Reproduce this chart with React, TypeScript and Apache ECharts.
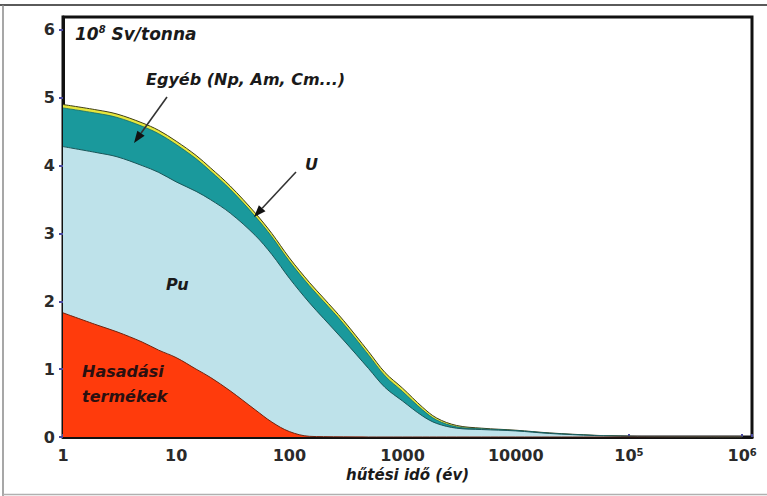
import React, { useEffect, useRef } from 'react';
import * as echarts from 'echarts';

// cooling time (years)
const years = [1, 2, 3, 5, 7, 10, 15, 20, 30, 50, 70, 100, 150, 200, 300, 500, 700, 1000, 1500, 2000, 3000, 5000, 10000, 20000, 50000, 100000, 200000, 500000, 1000000];
// layer values (10^8 Sv / tonne), stacked bottom to top
const fissionProducts = [1.83, 1.65, 1.55, 1.4, 1.28, 1.17, 1.0, 0.88, 0.68, 0.4, 0.22, 0.08, 0.01, 0.005, 0.002, 0, 0, 0, 0, 0, 0, 0, 0, 0, 0, 0, 0, 0, 0];
const plutonium = [2.45, 2.54, 2.58, 2.6, 2.62, 2.59, 2.62, 2.62, 2.62, 2.57, 2.47, 2.26, 1.97, 1.745, 1.428, 1.01, 0.73, 0.53, 0.31, 0.2, 0.13, 0.11, 0.09, 0.052, 0.021, 0.008, 0.004, 0.002, 0.001];
const otherActinides = [0.57, 0.58, 0.58, 0.58, 0.57, 0.55, 0.48, 0.42, 0.35, 0.28, 0.26, 0.25, 0.25, 0.25, 0.24, 0.2, 0.17, 0.14, 0.09, 0.05, 0.02, 0.01, 0.005, 0.004, 0.002, 0.001, 0.0005, 0, 0];
const uranium = [0.05, 0.05, 0.05, 0.05, 0.05, 0.05, 0.05, 0.05, 0.05, 0.05, 0.05, 0.05, 0.05, 0.05, 0.05, 0.05, 0.05, 0.05, 0.04, 0.03, 0.02, 0.01, 0.005, 0.004, 0.002, 0.001, 0.0005, 0, 0];
const yTicks = [0, 1, 2, 3, 4, 5, 6];

const FONT = '"DejaVu Sans", sans-serif';

// cumulative (stacked) tops, built from the layer arrays
function cumulative(layers: number[][]) {
  return years.map((t, i) => [t, layers.reduce((s, l) => s + l[i], 0)]);
}

function arrow(x1: number, y1: number, x2: number, y2: number) {
  const dx = x2 - x1;
  const dy = y2 - y1;
  const len = Math.sqrt(dx * dx + dy * dy);
  const ux = dx / len;
  const uy = dy / len;
  const hl = 12;
  const hw = 4.5;
  const bx = x2 - ux * hl;
  const by = y2 - uy * hl;
  return [
    {
      type: 'line',
      shape: { x1, y1, x2: bx, y2: by },
      style: { stroke: '#333', lineWidth: 1.6 },
      silent: true,
      z: 100,
    },
    {
      type: 'polygon',
      shape: {
        points: [
          [x2, y2],
          [bx - uy * hw, by + ux * hw],
          [bx + uy * hw, by - ux * hw],
        ],
      },
      style: { fill: '#111' },
      silent: true,
      z: 100,
    },
  ];
}

function text(x: number, y: number, t: string, size: number, fill = '#1a1a1a') {
  return {
    type: 'text',
    style: {
      x,
      y,
      text: t,
      font: `italic bold ${size}px ${FONT}`,
      fill,
      textAlign: 'left',
      textVerticalAlign: 'middle',
    },
    silent: true,
    z: 100,
  };
}

export default function App() {
  const ref = useRef<HTMLDivElement>(null);

  useEffect(() => {
    if (!ref.current) return;
    const chart = echarts.init(ref.current, null, { renderer: 'svg' });

    const isPow10 = (v: number) => Math.abs(Math.log10(v) - Math.round(Math.log10(v))) < 1e-6;

    const areaSeries = (name: string, data: number[][], fill: string, line: string, lw: number, z: number) => ({
      name,
      type: 'line',
      data,
      smooth: 0.35,
      showSymbol: false,
      symbol: 'none',
      z,
      lineStyle: { color: line, width: lw },
      areaStyle: { color: fill, opacity: 1, origin: 'start' },
      emphasis: { disabled: true },
    });

    const option: any = {
      animation: false,
      backgroundColor: '#ffffff',
      grid: {
        left: 63,
        top: 17,
        width: 689,
        height: 420,
        show: true,
        borderColor: '#111',
        borderWidth: 3,
        backgroundColor: '#ffffff',
        containLabel: false,
      },
      xAxis: {
        type: 'log',
        logBase: 10,
        min: 1,
        max: 1222000,
        splitNumber: 6,
        name: 'hűtési idő (év)',
        nameLocation: 'middle',
        nameGap: 30,
        nameTextStyle: {
          fontFamily: FONT,
          fontStyle: 'italic',
          fontWeight: 'bold',
          fontSize: 15,
          color: '#1a1a1a',
          verticalAlign: 'top',
        },
        axisLine: { show: true, lineStyle: { color: '#111', width: 3 } },
        axisTick: { show: true, length: 3, inside: true, lineStyle: { color: '#4a4aa0', width: 2 } },
        splitLine: { show: false },
        minorTick: { show: false },
        axisLabel: {
          margin: 10,
          fontFamily: FONT,
          fontWeight: 'bold',
          fontSize: 16,
          color: '#2a2a2a',
          formatter: (v: number) => {
            if (!isPow10(v)) return '';
            const e = Math.round(Math.log10(v));
            if (e <= 4) return String(Math.round(v));
            return '{b|10}{s|' + e + '}';
          },
          rich: {
            b: { fontFamily: FONT, fontWeight: 'bold', fontSize: 16, color: '#2a2a2a' },
            s: { fontFamily: FONT, fontWeight: 'bold', fontSize: 10, color: '#2a2a2a', verticalAlign: 'top', lineHeight: 14 },
          },
        },
      },
      yAxis: {
        type: 'value',
        min: 0,
        max: 6.19,
        interval: 1,
        axisLine: { show: true, lineStyle: { color: '#111', width: 3 } },
        axisTick: { show: true, length: 4, customValues: yTicks, lineStyle: { color: '#4a4aa0', width: 2 } },
        splitLine: { show: false },
        axisLabel: {
          margin: 8,
          customValues: yTicks,
          fontFamily: FONT,
          fontWeight: 'bold',
          fontSize: 16,
          color: '#2a2a2a',
          formatter: (v: number) => (Math.abs(v - Math.round(v)) < 1e-6 ? String(Math.round(v)) : ''),
        },
      },
      series: [
        areaSeries('U', cumulative([fissionProducts, plutonium, otherActinides, uranium]), '#E6E63C', '#3e3e18', 1, 2),
        areaSeries('Egyéb (Np, Am, Cm...)', cumulative([fissionProducts, plutonium, otherActinides]), '#1A999C', '#0f6a6c', 0.8, 3),
        areaSeries('Pu', cumulative([fissionProducts, plutonium]), '#BEE2EA', '#1b5658', 1, 4),
        areaSeries('Hasadási termékek', cumulative([fissionProducts]), '#FF3B0C', '#6e2410', 1, 5),
      ],
      graphic: [
        // outer frame of the figure
        { type: 'line', shape: { x1: 0, y1: 5, x2: 767, y2: 5 }, style: { stroke: '#5a5a5a', lineWidth: 2 }, silent: true },
        { type: 'line', shape: { x1: 3, y1: 5, x2: 3, y2: 496 }, style: { stroke: '#8a8a8a', lineWidth: 1.5 }, silent: true },
        { type: 'line', shape: { x1: 3, y1: 494.5, x2: 767, y2: 494.5 }, style: { stroke: '#b0b0b0', lineWidth: 1.5 }, silent: true },
        {
          type: 'text',
          style: {
            x: 75,
            y: 34,
            text: '{b|10}{s|8}{b| Sv/tonna}',
            fill: '#1a1a1a',
            textVerticalAlign: 'middle',
            rich: {
              b: { fontFamily: FONT, fontStyle: 'italic', fontWeight: 'bold', fontSize: 17, lineHeight: 20, fill: '#1a1a1a' },
              s: { fontFamily: FONT, fontStyle: 'italic', fontWeight: 'bold', fontSize: 10, lineHeight: 20, verticalAlign: 'top', fill: '#1a1a1a' },
            },
          },
          silent: true,
          z: 100,
        },
        text(146, 79, 'Egyéb (Np, Am, Cm...)', 16),
        text(305, 164, 'U', 16),
        text(166, 284, 'Pu', 16),
        text(82, 371, 'Hasadási', 16, '#2a1010'),
        text(82, 396, 'termékek', 16, '#2a1010'),
        ...arrow(167, 97, 134, 143),
        ...arrow(296, 172, 254, 217),
      ],
    };

    chart.setOption(option);
    return () => {
      chart.dispose();
    };
  }, []);

  return (
    <div
      ref={ref}
      style={{ position: 'absolute', left: 0, top: 0, width: 767, height: 496, background: '#fff' }}
    />
  );
}
